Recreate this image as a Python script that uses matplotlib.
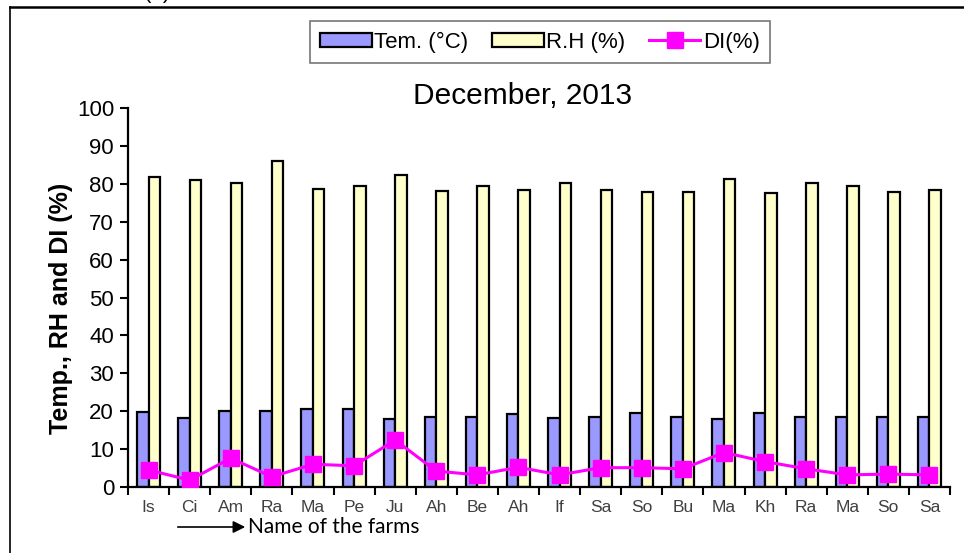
import numpy as np
import matplotlib.pyplot as plt
from matplotlib.lines import Line2D

farms = ['Is', 'Ci', 'Am', 'Ra', 'Ma', 'Pe', 'Ju', 'Ah', 'Be', 'Ah',
         'If', 'Sa', 'So', 'Bu', 'Ma', 'Kh', 'Ra', 'Ma', 'So', 'Sa']
temp = [19.7, 18.1, 20.1, 20.1, 20.5, 20.5, 17.9, 18.5, 18.5, 19.3,
        18.1, 18.5, 19.4, 18.5, 17.9, 19.4, 18.5, 18.5, 18.5, 18.5]
rh = [81.9, 81.0, 80.3, 86.0, 78.7, 79.4, 82.3, 78.1, 79.4, 78.4,
      80.3, 78.4, 77.9, 77.9, 81.2, 77.5, 80.3, 79.4, 77.9, 78.4]
di = [4.5, 1.8, 7.6, 2.7, 6.0, 5.6, 12.4, 4.2, 3.2, 5.2,
      3.2, 5.1, 5.1, 4.8, 9.1, 6.7, 4.8, 3.2, 3.4, 3.2]

plt.rcParams['font.family'] = ['Liberation Sans', 'DejaVu Sans']

fig = plt.figure(figsize=(9.64, 5.53), dpi=100)
ax = fig.add_axes([128 / 964, 1 - 487 / 553, 822 / 964, 379 / 553])

x = np.arange(len(farms))
w = 0.28
b1 = ax.bar(x - w / 2, temp, w, color='#9999FF', edgecolor='black', linewidth=1.6, label='Tem. (°C)')
b2 = ax.bar(x + w / 2, rh, w, color='#FFFFCC', edgecolor='black', linewidth=1.6, label='R.H (%)')
l1, = ax.plot(x, di, color='#FF00FF', linewidth=2.2, marker='s', markersize=11, label='DI(%)', zorder=5)

ax.set_xlim(-0.5, len(farms) - 0.5)
ax.set_ylim(0, 100)
ax.set_yticks(range(0, 101, 10))
ax.tick_params(axis='y', labelsize=16, length=6, width=1.5, direction='out', pad=4)
ax.set_xticks(np.arange(-0.5, len(farms), 1))
ax.set_xticklabels([])
ax.set_xticks(x, minor=True)
ax.set_xticklabels(farms, minor=True)
ax.tick_params(axis='x', which='major', length=6, width=1.5, direction='out')
ax.tick_params(axis='x', which='minor', length=0, labelsize=12.5, labelcolor='#404040', pad=9)

for s in ['top', 'right']:
    ax.spines[s].set_visible(False)
for s in ['left', 'bottom']:
    ax.spines[s].set_linewidth(1.6)

ax.set_ylabel('Temp., RH and DI (%)', fontsize=18, fontweight='bold')
ax.yaxis.set_label_coords(-(128 - 73) / 822, 0.47)
fig.text(523 / 964, 1 - 96 / 553, 'December, 2013', fontsize=21.5, ha='center', va='center')

leg = fig.legend(handles=[b1, b2, l1], loc='center', bbox_to_anchor=(540 / 964, 1 - 42 / 553),
                 ncol=3, fontsize=16, frameon=True, fancybox=False, handlelength=2.3,
                 handleheight=0.6, handletextpad=0.1, columnspacing=1.1, borderpad=0.45)
leg.get_frame().set_edgecolor('#555555')
leg.get_frame().set_linewidth(1.2)

# outer frame of the panel
fig.add_artist(Line2D([10 / 964, 10 / 964], [0, 1 - 7 / 553], color='black', linewidth=1.2))
fig.add_artist(Line2D([10 / 964, 1], [1 - 7 / 553, 1 - 7 / 553], color='black', linewidth=1.8))
fig.text(157 / 964, 1 - 3 / 553, '(b)', fontsize=16, ha='center', va='bottom')

fig.text(248 / 964, 1 - 527 / 553, 'Name of the farms', fontsize=15, family=['Lato', 'DejaVu Sans'],
         ha='left', va='center')
ax.annotate('', xy=(248 / 964, 1 - 527 / 553), xytext=(175 / 964, 1 - 527 / 553),
            xycoords='figure fraction', textcoords='figure fraction',
            arrowprops=dict(arrowstyle='-|>', color='black', linewidth=1.2, mutation_scale=18))

fig.savefig('out.png', dpi=100)
